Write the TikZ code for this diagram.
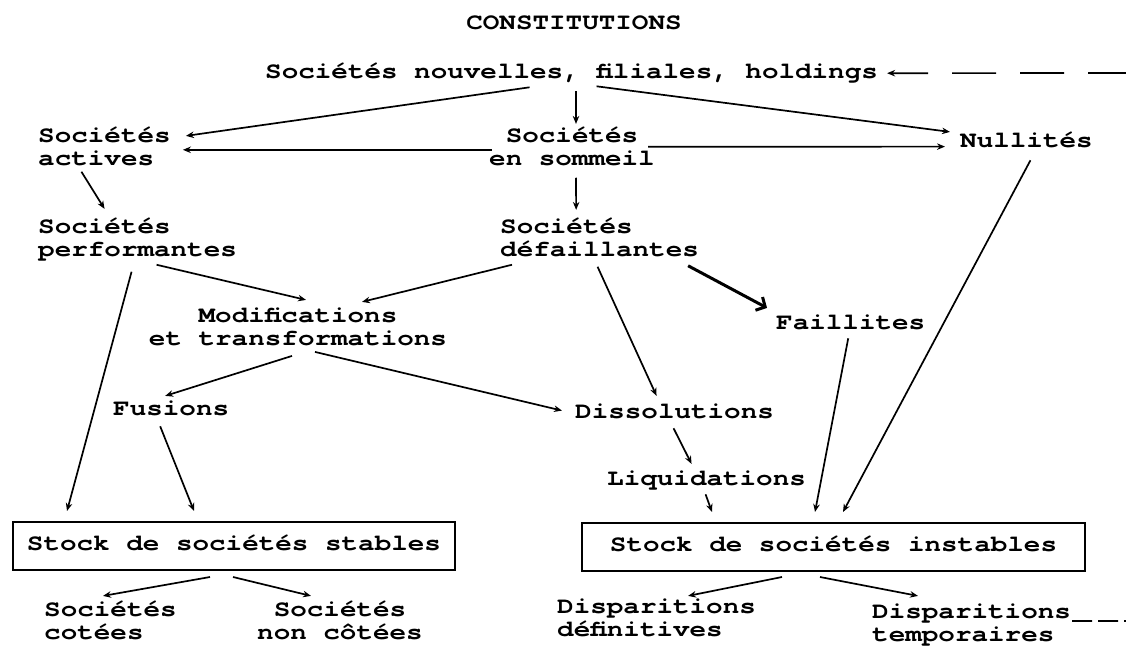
\documentclass[tikz,border=0pt]{standalone}
\usepackage{fontspec}
\newfontfamily\typew[FakeStretch=1.2]{TeX Gyre Cursor}
\usetikzlibrary{arrows.meta}
\tikzset{
  lbl/.style={inner sep=0pt, align=left, font=\typew\bfseries\fontsize{23}{23}\selectfont,
    execute at begin node=\strut, execute at end node=\strut},
  stockbox/.style={lbl, align=center, draw, line width=2pt, inner xsep=0pt, inner ysep=12.5pt},
  arr/.style={-{Stealth[length=8pt,width=6.5pt]}, line width=1.7pt},
  fatarr/.style={-{Straight Barb[length=7pt,width=15pt]}, line width=3pt}
}
\begin{document}
\begin{tikzpicture}[x=1pt,y=-1pt]
\useasboundingbox (0,0) rectangle (1126,645);
%top
\node[lbl, anchor=north] (const) at (574,12.9) {CONSTITUTIONS};
\node[lbl, anchor=north west] (hold) at (265,61.9) {Sociétés nouvelles, filiales, holdings};
\coordinate (holdend) at (1126,73);
%second row
\node[lbl, anchor=north west] (actv) at (38,126.9) {Sociétés\\actives};
\node[lbl, align=center, anchor=north] (somm) at (572,126.9) {Sociétés\\en sommeil};
\node[lbl, anchor=north west] (null) at (960,130.9) {Nullités};
\node[lbl, anchor=north west] (perf) at (38,217.9) {Sociétés\\performantes};
\node[lbl, anchor=north west] (defa) at (500,217.9) {Sociétés\\défaillantes};
%middle
\node[lbl, align=center, anchor=north] (modi) at (298,307.9) {Modifications\\et transformations};
\node[lbl, anchor=north west] (fail) at (776,312.9) {Faillites};
\node[lbl, anchor=north west] (fusi) at (113,398.9) {Fusions};
\node[lbl, anchor=north west] (diss) at (575,401.9) {Dissolutions};
\node[lbl, anchor=north west] (liqu) at (607,468.9) {Liquidations};
%stocks
\node[stockbox, minimum width=442pt] (stab) at (234,546) {Stock de sociétés stables};
\node[stockbox, minimum width=503pt] (inst) at (833.5,547) {Stock de sociétés instables};
%bottom
\node[lbl, anchor=north west] (cote) at (44,600.9) {Sociétés\\cotées};
\node[lbl, align=center, anchor=north] (ncot) at (340,600.9) {Sociétés\\non côtées};
\node[lbl, anchor=north west] (ddef) at (557,598.9) {Disparitions\\définitives};
\node[lbl, anchor=north west] (dtem) at (872,603.9) {Disparitions\\temporaires};
\coordinate (dtemend) at (1126,621);

%arrows from the top
\draw[arr, {Stealth[length=8pt,width=6.5pt]}-, dash pattern=on 36pt off 24pt on 44pt off 24pt on 44pt off 24pt on 44pt] ([shift={(9,-0.4)}]hold.east) -- (holdend);
\draw[arr] ([shift={(4,6)}]somm.north |- hold.south) -- ([shift={(4,-3)}]somm.north);
\draw[arr] ([shift={(-42,2)}]hold.south) -- ([shift={(15,9)}]actv.north east);
\draw[arr] ([shift={(25,1)}]hold.south) -- ([shift={(-10,1)}]null.north west);
\draw[arr] ([shift={(3,0)}]somm.west) -- ([shift={(12,0)}]actv.east);
\draw[arr] ([shift={(-7,-3)}]somm.east) -- ([shift={(-15,4)}]null.west);
\draw[arr] ([shift={(-23,-1)}]actv.south) -- ([shift={(-33,-9)}]perf.north);
\draw[arr] ([shift={(4,5)}]somm.south) -- ([shift={(-23.4,-8)}]defa.north);
%arrows to modifications and failures
\draw[arr] ([shift={(19,1)}]perf.south) -- ([shift={(8,-8)}]modi.north);
\draw[arr] ([shift={(12,1)}]defa.south west) -- ([shift={(64,-6)}]modi.north);
\draw[fatarr] ([shift={(-11,2)}]defa.south east) -- ([shift={(-9,-5)}]fail.north west);
\draw[arr] ([shift={(-2,3)}]defa.south) -- ([shift={(-18,-6)}]diss.north);
\draw[arr] ([shift={(-6,3)}]modi.south) -- ([shift={(-6,-3)}]fusi.north);
\draw[arr] ([shift={(17,-1)}]modi.south) -- ([shift={(-13,-3)}]diss.west);
%arrows to the stocks
\draw[arr] ([shift={(-6,8)}]perf.south) -- ([shift={(55,-10)}]stab.north west);
\draw[arr] ([shift={(-11,4)}]fusi.south) -- ([shift={(182,-10)}]stab.north west);
\draw[arr] ([shift={(-2.5,2)}]fail.south) -- ([shift={(234,-10)}]inst.north west);
\draw[arr] ([shift={(4,6)}]null.south) -- ([shift={(262,-10)}]inst.north west);
\draw[arr] ([shift={(-1,3)}]diss.south) -- ([shift={(-15,-5)}]liqu.north);
\draw[arr] ([shift={(-1,2)}]liqu.south) -- ([shift={(131,-10)}]inst.north west);
%arrows out of the stocks
\draw[arr] ([shift={(-24,6)}]stab.south) -- ([shift={(59,-5)}]cote.north west);
\draw[arr] ([shift={(-1,6)}]stab.south) -- ([shift={(-29,-5)}]ncot.north);
\draw[arr] ([shift={(-51.5,5)}]inst.south) -- ([shift={(131,-3)}]ddef.north west);
\draw[arr] ([shift={(-13.5,5)}]inst.south) -- ([shift={(46,-8)}]dtem.north west);
\draw[line width=1.7pt, dash pattern=on 20pt off 6pt] ([shift={(1,17)}]dtem.north east) -- (dtemend);
\end{tikzpicture}
\end{document}
